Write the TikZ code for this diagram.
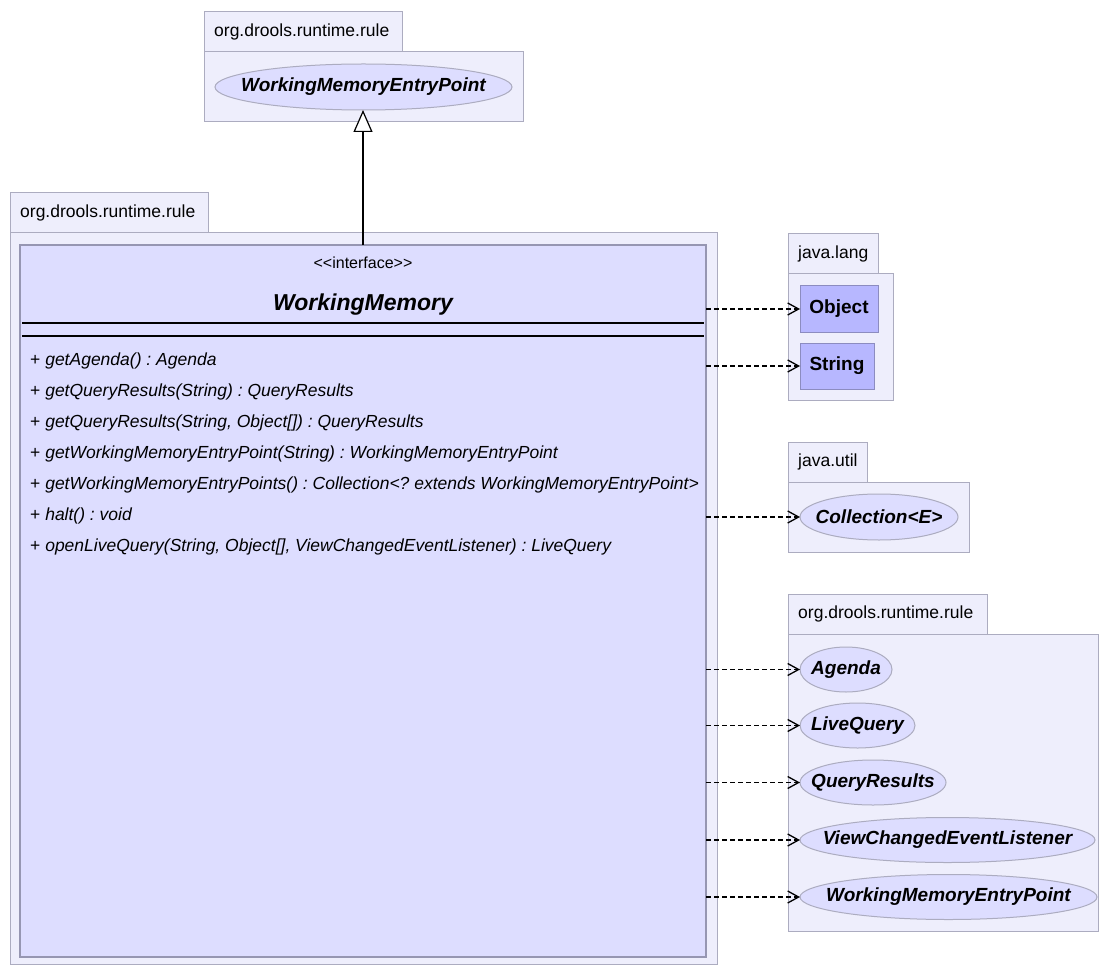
\documentclass[tikz,border=0pt]{standalone}
\usepackage{fontspec}
\setmainfont{Liberation Sans}
\usetikzlibrary{arrows.meta,shapes.geometric}
\definecolor{pkgfill}{RGB}{238,238,252}
\definecolor{pkgline}{RGB}{172,172,192}
\definecolor{clsfill}{RGB}{221,221,255}
\definecolor{clsline}{RGB}{150,150,178}
\definecolor{extfill}{RGB}{183,183,255}
\definecolor{extline}{RGB}{140,140,192}
\newcommand\pkgfont{\fontsize{17.5}{21}\selectfont}
\newcommand\methfont{\fontsize{17.5}{21}\selectfont\itshape}
\newcommand\labfont{\fontsize{19}{23}\selectfont\bfseries}
\frenchspacing
\begin{document}
\begin{tikzpicture}[x=1pt,y=-1pt,
  pkg/.style={draw=pkgline, fill=pkgfill, line width=1pt, inner sep=0pt, outer sep=0pt, anchor=north west},
  pkglabel/.style={anchor=west, inner sep=0pt, font=\pkgfont},
  cls/.style={draw=clsline, fill=clsfill, line width=1.2pt, inner sep=0pt, outer sep=0pt, anchor=north west},
  meth/.style={anchor=west, inner sep=0pt, font=\methfont},
  ext/.style={draw=extline, fill=extfill, line width=1pt, inner sep=0pt, outer sep=0pt, font=\labfont},
  iface/.style={ellipse, draw=pkgline, fill=clsfill, line width=1pt, inner sep=0pt, outer sep=0pt, minimum height=45pt,
    label={[inner sep=0pt, font=\labfont\itshape]center:#1}},
  dep/.style={dashed, dash pattern=on 5pt off 3pt, line width=1.2pt, -{Straight Barb[length=11pt,width=12pt,line width=1.3pt]}},
  inherit/.style={line width=1.2pt, -{Triangle[open,length=22pt,width=19pt,line width=1.2pt,fill=white]}}
]
\useasboundingbox (0,0) rectangle (1099,965);
\fill[white] (0,0) rectangle (1099,965);

% top package
\node[pkg, minimum width=319pt, minimum height=70pt] (p1body) at (204,52) {};
\node[pkg, minimum width=198pt, minimum height=40pt] (p1tab) at (204,12) {};
\node[pkglabel] (p1lbl) at (214,32) {org.drools.runtime.rule};
\node[iface=WorkingMemoryEntryPoint, minimum width=297pt, minimum height=46pt] (wmepTop) at (363.5,87) {};

% main package
\node[pkg, minimum width=707pt, minimum height=731pt] (p2body) at (10,233) {};
\node[pkg, minimum width=198pt, minimum height=40pt] (p2tab) at (10,193) {};
\node[pkglabel] (p2lbl) at (20,213) {org.drools.runtime.rule};
\node[cls, minimum width=686pt, minimum height=712pt] (wm) at (20,245) {};
\node[inner sep=0pt, font=\fontsize{16}{19}\selectfont] (stereo) at (363,263) {<{}<interface>{}>};
\node[inner sep=0pt, font=\fontsize{23}{27}\selectfont\bfseries\itshape] (title) at (363,305) {WorkingMemory};
\draw[line width=1.5pt] (22,323) -- (704,323);
\draw[line width=1.5pt] (22,336) -- (704,336);
\node[meth] (m1) at (30,360.5) {\upshape+ \itshape getAgenda() : Agenda};
\node[meth] (m2) at (30,391.5) {\upshape+ \itshape getQueryResults(String) : QueryResults};
\node[meth] (m3) at (30,422.5) {\upshape+ \itshape getQueryResults(String, Object[]) : QueryResults};
\node[meth] (m4) at (30,453.5) {\upshape+ \itshape getWorkingMemoryEntryPoint(String) : WorkingMemoryEntryPoint};
\node[meth] (m5) at (30,484.5) {\upshape+ \itshape getWorkingMemoryEntryPoints() : Collection<? extends WorkingMemoryEntryPoint>};
\node[meth] (m6) at (30,515.5) {\upshape+ \itshape halt() : void};
\node[meth] (m7) at (30,546.5) {\upshape+ \itshape openLiveQuery(String, Object[], ViewChangedEventListener) : LiveQuery};

% java.lang
\node[pkg, minimum width=105pt, minimum height=126pt] (p3body) at (788,274) {};
\node[pkg, minimum width=90pt, minimum height=40pt] (p3tab) at (788,234) {};
\node[pkglabel] (p3lbl) at (798,254) {java.lang};
\node[ext, minimum width=78pt, minimum height=46pt] (obj) at (839,309) {Object};
\node[ext, minimum width=74pt, minimum height=46pt] (str) at (837,366) {String};

% java.util
\node[pkg, minimum width=181pt, minimum height=70pt] (p4body) at (788,482) {};
\node[pkg, minimum width=79pt, minimum height=40pt] (p4tab) at (788,442) {};
\node[pkglabel] (p4lbl) at (798,462) {java.util};
\node[iface={Collection<E>}, minimum width=158pt, minimum height=46pt] (coll) at (879,517) {};

% bottom package
\node[pkg, minimum width=310pt, minimum height=297pt] (p5body) at (788,634) {};
\node[pkg, minimum width=199pt, minimum height=40pt] (p5tab) at (788,594) {};
\node[pkglabel] (p5lbl) at (798,614) {org.drools.runtime.rule};
\node[iface=Agenda, minimum width=92pt] (agenda) at (846,669.5) {};
\node[iface=LiveQuery, minimum width=115pt] (live) at (857.5,725.5) {};
\node[iface=QueryResults, minimum width=146pt] (qres) at (873,782.5) {};
\node[iface=ViewChangedEventListener, minimum width=295pt] (vcel) at (947.5,840) {};
\node[iface=WorkingMemoryEntryPoint, minimum width=297pt] (wmep) at (948.5,897) {};

% connectors
\draw[inherit] (wm.north) -- (wm.north |- wmepTop.south);
\foreach \t in {obj,str,coll,agenda,live,qres,vcel,wmep}{
  \draw[dep] (wm.east |- \t.west) -- (\t.west);
}
\end{tikzpicture}
\end{document}
